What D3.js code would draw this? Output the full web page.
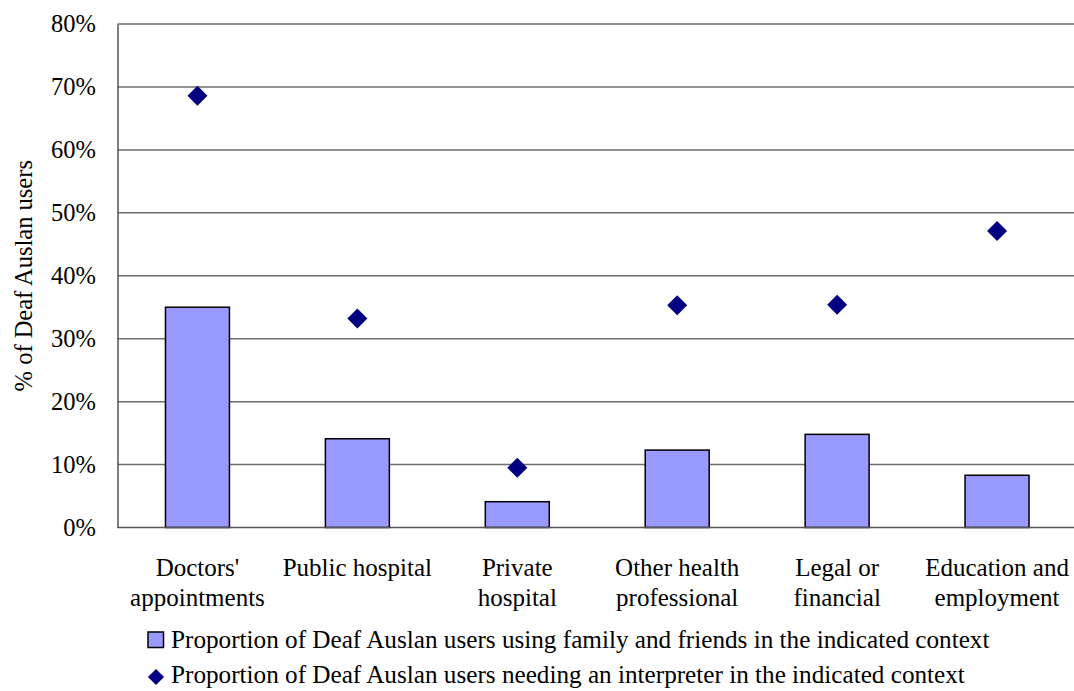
<!DOCTYPE html>
<html>
<head>
<meta charset="utf-8">
<script src="https://cdn.jsdelivr.net/npm/d3@7"></script>
<style>
  body { margin: 0; background: #fff; }
  svg text { font-family: "Times New Roman", "Liberation Serif", Times, serif; fill: #000; }
</style>
</head>
<body>
<div id="chart"></div>
<script>
// Data
var categories = [
  ["Doctors'", "appointments"],
  ["Public hospital"],
  ["Private", "hospital"],
  ["Other health", "professional"],
  ["Legal or", "financial"],
  ["Education and", "employment"]
];
var familyFriends = [0.35, 0.141, 0.041, 0.123, 0.148, 0.083];
var needInterpreter = [0.686, 0.332, 0.095, 0.353, 0.354, 0.471];
var yTicks = [0, 0.1, 0.2, 0.3, 0.4, 0.5, 0.6, 0.7, 0.8];
var legendLabels = [
  "Proportion of Deaf Auslan users using family and friends in the indicated context",
  "Proportion of Deaf Auslan users needing an interpreter in the indicated context"
];

var svgWidth = 1074;
var svgHeight = 691;
var fontFamily = "'Times New Roman', 'Liberation Serif', Times, serif";

var margin = { left: 117.5, top: 24, right: -3, bottom: 163.5 };
var width = svgWidth - margin.left - margin.right;
var height = svgHeight - margin.top - margin.bottom;

var svg = d3.select("#chart")
  .append("svg")
  .attr("width", svgWidth)
  .attr("height", svgHeight)
  .attr("font-family", fontFamily);

var chartGroup = svg.append("g")
  .attr("transform", `translate(${margin.left}, ${margin.top})`);

var xScale = d3.scaleBand()
  .domain(d3.range(categories.length))
  .range([0, width])
  .paddingInner(0.6)
  .paddingOuter(0.3);

var yScale = d3.scaleLinear()
  .domain([0, 0.8])
  .range([height, 0]);

// gridlines
chartGroup.selectAll(".grid")
  .data(yTicks.filter(d => d > 0))
  .enter()
  .append("line")
  .attr("class", "grid")
  .attr("x1", 0)
  .attr("x2", width)
  .attr("y1", d => yScale(d))
  .attr("y2", d => yScale(d))
  .attr("stroke", "#6e6e6e")
  .attr("stroke-width", 1.5);

// y axis
var leftAxis = d3.axisLeft(yScale)
  .tickValues(yTicks)
  .tickFormat(d3.format(".0%"))
  .tickSize(0)
  .tickPadding(21.5);

var yAxis = chartGroup.append("g").call(leftAxis)
  .attr("font-family", fontFamily)
  .attr("font-size", 24.5);
yAxis.select(".domain").attr("stroke", "#555").attr("stroke-width", 1.5);
yAxis.selectAll("text").attr("fill", "#000");

// bars
chartGroup.selectAll(".bar")
  .data(familyFriends)
  .enter()
  .append("rect")
  .attr("class", "bar")
  .attr("x", (d, i) => xScale(i))
  .attr("y", d => yScale(d))
  .attr("width", xScale.bandwidth())
  .attr("height", d => height - yScale(d))
  .attr("fill", "#9999ff")
  .attr("stroke", "#000")
  .attr("stroke-width", 1.5);

// x axis baseline
chartGroup.append("line")
  .attr("x1", 0)
  .attr("x2", width)
  .attr("y1", height)
  .attr("y2", height)
  .attr("stroke", "#555")
  .attr("stroke-width", 1.5);

// diamonds
var diamond = d3.symbol().type(d3.symbolSquare).size(200);
chartGroup.selectAll(".point")
  .data(needInterpreter)
  .enter()
  .append("path")
  .attr("class", "point")
  .attr("d", diamond)
  .attr("transform", (d, i) => `translate(${xScale(i) + xScale.bandwidth() / 2}, ${yScale(d)}) rotate(45)`)
  .attr("fill", "#000080");

// category labels
var catLabels = chartGroup.selectAll(".catLabel")
  .data(categories)
  .enter()
  .append("text")
  .attr("class", "catLabel")
  .attr("text-anchor", "middle")
  .attr("font-size", "25px")
  .attr("transform", (d, i) => `translate(${xScale(i) + xScale.bandwidth() / 2}, ${height + 48})`);

catLabels.selectAll("tspan")
  .data(d => d)
  .enter()
  .append("tspan")
  .attr("x", 0)
  .attr("y", (d, i) => i * 30)
  .text(d => d);

// y axis title
svg.append("text")
  .attr("transform", `translate(32, ${margin.top + height / 2}) rotate(-90)`)
  .attr("text-anchor", "middle")
  .attr("font-size", "24.5px")
  .text("% of Deaf Auslan users");

// legend
var legend = svg.append("g");

legend.append("rect")
  .attr("x", 148)
  .attr("y", 632)
  .attr("width", 15.5)
  .attr("height", 15.5)
  .attr("fill", "#9999ff")
  .attr("stroke", "#000")
  .attr("stroke-width", 1.5);

legend.append("path")
  .attr("d", d3.symbol().type(d3.symbolSquare).size(130))
  .attr("transform", "translate(156, 677) rotate(45)")
  .attr("fill", "#000080");

legend.selectAll(".legLabel")
  .data(legendLabels)
  .enter()
  .append("text")
  .attr("class", "legLabel")
  .attr("x", 171)
  .attr("y", (d, i) => 648 + i * 35)
  .attr("font-size", "25.2px")
  .text(d => d);
</script>
</body>
</html>
